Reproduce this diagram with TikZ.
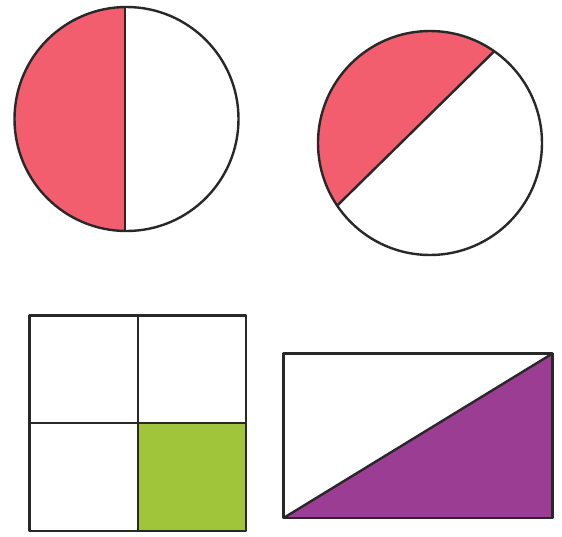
\documentclass[tikz,border=0pt]{standalone}
\usetikzlibrary{calc}
\definecolor{pinkfill}{RGB}{242,94,110}
\definecolor{greenfill}{RGB}{160,196,58}
\definecolor{purplefill}{RGB}{156,61,148}
\definecolor{edge}{RGB}{40,40,40}
\tikzset{outline/.style={draw=edge,line width=2.4pt,line join=round}}
\begin{document}
\begin{tikzpicture}[x=1pt,y=-1pt]
\useasboundingbox (0,0) rectangle (562,536);
% circle 1
\coordinate (c1) at (126.5,119);
\fill[pinkfill] ($(c1)+(-1.5,-112)$) arc[start angle=-90.77,end angle=-269.23,radius=112] -- cycle;
\draw[outline] (c1) circle[radius=112];
\draw[outline] ($(c1)+(-1.5,-112)$) -- ($(c1)+(-1.5,112)$);
% circle 2
\coordinate (c2) at (430,143);
\coordinate (p1) at ($(c2)+({112*cos(55)},{-112*sin(55)})$);
\coordinate (p2) at ($(c2)+({112*cos(214)},{-112*sin(214)})$);
\fill[pinkfill] (p1) arc[start angle=-55,end angle=-214,radius=112] -- cycle;
\draw[outline] (c2) circle[radius=112];
\draw[outline] (p1) -- (p2);
% square grid
\fill[greenfill] (138,423) rectangle (246,531);
\draw[outline] (29.5,315.5) rectangle (246,531);
\draw[outline] (138,315.5) -- (138,531);
\draw[outline] (29.5,423) -- (246,423);
% rectangle
\fill[purplefill] (283.5,518) -- (552.5,353.5) -- (552.5,518) -- cycle;
\draw[outline] (283.5,353.5) rectangle (552.5,518);
\draw[outline] (283.5,518) -- (552.5,353.5);
\end{tikzpicture}
\end{document}
